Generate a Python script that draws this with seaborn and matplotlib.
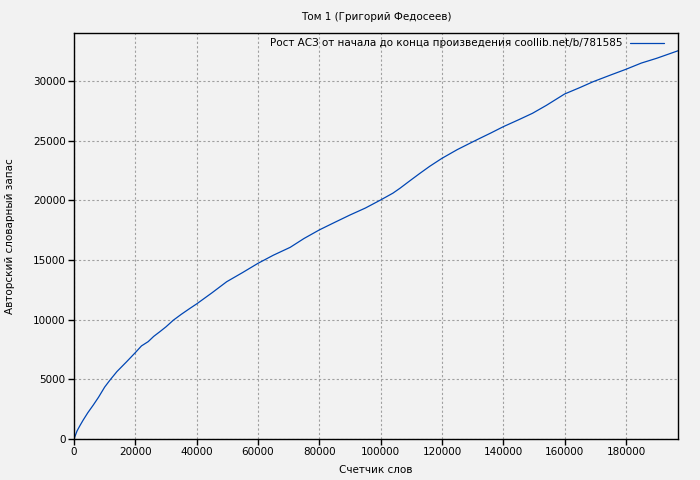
import matplotlib
matplotlib.use("Agg")
import matplotlib.pyplot as plt
import seaborn as sns
import pandas as pd

title = "Том 1 (Григорий Федосеев)"
x_label = "Счетчик слов"
y_label = "Авторский словарный запас"
series_name = "Рост АСЗ от начала до конца произведения coollib.net/b/781585"

words = [0, 1000, 2000, 3000, 4500, 6300, 8000, 10000, 11740, 14000, 17180, 20000,
         22000, 24200, 26000, 28040, 30000, 32370, 35000, 37830, 40000, 45000, 49800,
         55000, 60000, 65000, 70500, 75000, 80000, 85000, 90000, 95000, 100000, 104000,
         106300, 109600, 112800, 116000, 120000, 125000, 129100, 132000, 136000, 140000,
         145000, 149500, 154000, 160000, 165000, 169300, 175000, 180000, 185000, 190000,
         196970]
vocab = [0, 680, 1150, 1590, 2200, 2850, 3500, 4350, 4940, 5650, 6480, 7240,
         7800, 8160, 8600, 9000, 9400, 9950, 10450, 10950, 11320, 12250, 13180,
         13950, 14720, 15400, 16060, 16800, 17520, 18150, 18770, 19350, 20030, 20600,
         21010, 21650, 22260, 22850, 23520, 24250, 24780, 25150, 25650, 26170,
         26750, 27290, 27950, 28910, 29450, 29940, 30500, 30980, 31500, 31900,
         32530]
x_ticks = [0, 20000, 40000, 60000, 80000, 100000, 120000, 140000, 160000, 180000]
y_ticks = [0, 5000, 10000, 15000, 20000, 25000, 30000]

sns.set_style("white")
plt.rcParams['font.family'] = ['DejaVu Sans']
plt.rcParams['text.color'] = 'black'
plt.rcParams['axes.labelcolor'] = 'black'
bg = "#f2f2f2"

fig = plt.figure(figsize=(7, 4.8), dpi=100, facecolor=bg)
ax = fig.add_axes([74/700, 41/480, 604/700, 406/480])
ax.set_facecolor(bg)

df = pd.DataFrame({"words": words, "vocab": vocab, "s": series_name})
sns.lineplot(data=df, x="words", y="vocab", hue="s", palette=["#0046b4"],
             linewidth=0.9, ax=ax)

ax.set_xlim(0, 196970)
ax.set_ylim(0, 34020)
ax.set_xticks(x_ticks)
ax.set_yticks(y_ticks)
ax.set_xticklabels([str(t) for t in x_ticks])
ax.set_yticklabels([str(t) for t in y_ticks])
ax.tick_params(direction="out", length=4, width=1, pad=2, labelsize=7.5,
               colors="black", bottom=True, left=True)
for s in ax.spines.values():
    s.set_visible(True)
    s.set_color("black")
    s.set_linewidth(1)
ax.grid(True, color="#a0a0a0", linestyle=(0, (2, 2)), linewidth=0.8)

ax.set_xlabel(x_label, fontsize=7.5, labelpad=5.5, color="black")
ax.set_ylabel(y_label, fontsize=7.5, labelpad=13, color="black")
ax.set_title(title, fontsize=7.5, pad=9, color="black")

leg = ax.legend(loc="upper right", bbox_to_anchor=(1 - 9/604, 1), frameon=False,
                fontsize=7.5, markerfirst=False, handlelength=3.2,
                handletextpad=0.8, borderaxespad=0.3, borderpad=0.2)
for t in leg.get_texts():
    t.set_color("black")

fig.savefig("out.png", dpi=100, facecolor=bg)
